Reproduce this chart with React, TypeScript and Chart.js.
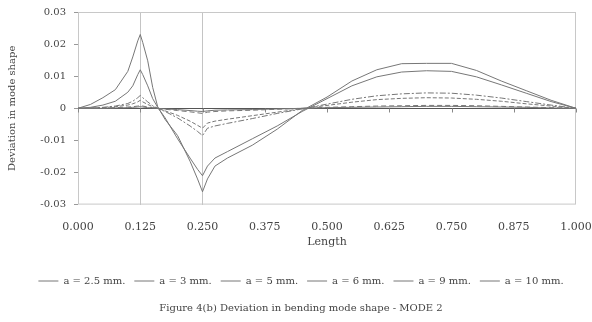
import React, { useEffect, useRef } from "react";
import { Chart, registerables } from "chart.js";

Chart.register(...registerables);

// Position along the beam (normalised length)
const lengths = [0, 0.025, 0.05, 0.075, 0.1, 0.11, 0.12, 0.125, 0.13, 0.14, 0.15, 0.16, 0.175, 0.2, 0.225, 0.24, 0.25, 0.26, 0.275, 0.3, 0.35, 0.4, 0.45, 0.5, 0.55, 0.6, 0.65, 0.7, 0.75, 0.8, 0.85, 0.9, 0.95, 1.0];

const a25 = [0, 0, 0, 0.0001, 0.0002, 0.0003, 0.0004, 0.0005, 0.0004, 0.0002, 0.0001, 0, -0.0002, -0.0004, -0.0007, -0.0009, -0.001, -0.0008, -0.0006, -0.0005, -0.0004, -0.0002, 0, 0.0002, 0.0003, 0.0004, 0.0005, 0.0006, 0.0006, 0.0005, 0.0004, 0.0003, 0.0001, 0];
const a3 = [0, 0, 0.0001, 0.0002, 0.0004, 0.0005, 0.0007, 0.0008, 0.0007, 0.0004, 0.0002, 0, -0.0003, -0.0007, -0.0011, -0.0014, -0.0016, -0.0012, -0.001, -0.0008, -0.0006, -0.0003, 0, 0.0003, 0.0005, 0.0007, 0.0008, 0.0009, 0.0009, 0.0008, 0.0006, 0.0004, 0.0002, 0];
const a5 = [0, 0.0001, 0.0002, 0.0005, 0.001, 0.0014, 0.002, 0.0025, 0.002, 0.0012, 0.0005, 0, -0.0008, -0.0022, -0.004, -0.0053, -0.0062, -0.0046, -0.004, -0.0034, -0.0023, -0.0012, -0.0001, 0.0009, 0.0019, 0.0027, 0.0031, 0.0033, 0.0032, 0.0028, 0.0022, 0.0014, 0.0007, 0];
const a6 = [0, 0.0001, 0.0003, 0.0007, 0.0015, 0.0022, 0.0033, 0.004, 0.0033, 0.002, 0.0008, 0, -0.001, -0.003, -0.0055, -0.0072, -0.0085, -0.0062, -0.0055, -0.0047, -0.0032, -0.0016, -0.0002, 0.0013, 0.0028, 0.0039, 0.0045, 0.0048, 0.0047, 0.0041, 0.0032, 0.0021, 0.001, 0];
const a9 = [0, 0.0003, 0.001, 0.0022, 0.005, 0.007, 0.0105, 0.012, 0.0105, 0.007, 0.003, 0.0003, -0.003, -0.0095, -0.0155, -0.019, -0.021, -0.018, -0.0155, -0.0135, -0.0095, -0.0055, -0.001, 0.003, 0.007, 0.0098, 0.0113, 0.0117, 0.0115, 0.0098, 0.0073, 0.0047, 0.0021, 0];
const a10 = [0, 0.0012, 0.0033, 0.0058, 0.0115, 0.016, 0.021, 0.023, 0.0205, 0.0148, 0.0065, 0.0005, -0.0035, -0.0085, -0.0165, -0.022, -0.026, -0.022, -0.018, -0.0155, -0.0115, -0.0065, -0.0007, 0.0035, 0.0085, 0.012, 0.0139, 0.014, 0.014, 0.0118, 0.0085, 0.0055, 0.0025, 0];

const seriesLabels = ["a = 2.5 mm.", "a = 3 mm.", "a = 5 mm.", "a = 6 mm.", "a = 9 mm.", "a = 10 mm."];
const seriesValues = [a25, a3, a5, a6, a9, a10];
const seriesDashes: number[][] = [[], [5, 3], [4, 2], [6, 2, 2, 2], [], []];

const xTickValues = [0, 0.125, 0.25, 0.375, 0.5, 0.625, 0.75, 0.875, 1.0];
const yTickValues = [-0.03, -0.02, -0.01, 0, 0.01, 0.02, 0.03];
const markerLines = [0.125, 0.25];

const xTitle = "Length";
const yTitle = "Deviation in mode shape";
const caption = "Figure 4(b) Deviation in bending mode shape - MODE 2";

const FAMILY = "'DejaVu Serif', serif";
const TEXT = "#444";

export default function App() {
  const ref = useRef<HTMLCanvasElement>(null);

  useEffect(() => {
    if (!ref.current) return;

    const frame = {
      id: "frame",
      beforeDatasetsDraw(chart: any) {
        const { ctx, chartArea: a, scales } = chart;
        ctx.save();
        ctx.strokeStyle = "#c8c8c8";
        ctx.lineWidth = 1;
        ctx.strokeRect(a.left + 0.5, a.top + 0.5, a.right - a.left - 1, a.bottom - a.top - 1);
        const y0 = Math.round(scales.y.getPixelForValue(0)) + 0.5;
        ctx.strokeStyle = "#888";
        ctx.beginPath();
        for (const t of scales.x.ticks) {
          const px = Math.round(scales.x.getPixelForValue(t.value)) + 0.5;
          ctx.moveTo(px, y0);
          ctx.lineTo(px, y0 + 4);
        }
        ctx.stroke();
        ctx.restore();
      },
    };

    const chart = new Chart(ref.current, {
      type: "line",
      data: {
        datasets: seriesValues.map((vals, i) => ({
          label: seriesLabels[i],
          data: lengths.map((x, j) => ({ x, y: vals[j] })),
          borderColor: "#777",
          backgroundColor: "#777",
          borderWidth: 1,
          borderDash: seriesDashes[i],
          pointRadius: 0,
          fill: false,
          tension: 0,
        })),
      },
      options: {
        responsive: false,
        animation: false,
        layout: { padding: { left: 26, right: 16, top: 12, bottom: 0 } },
        scales: {
          x: {
            type: "linear",
            min: 0,
            max: 1,
            afterBuildTicks: (s: any) => {
              s.ticks = xTickValues.map((v) => ({ value: v }));
            },
            afterFit: (s: any) => {
              s.paddingLeft = 0;
              s.paddingRight = 0;
            },
            ticks: {
              callback: (v: any) => Number(v).toFixed(3),
              font: { family: FAMILY, size: 11 },
              color: TEXT,
              padding: 16,
              maxRotation: 0,
              autoSkip: false,
            },
            grid: {
              drawTicks: false,
              color: (c: any) =>
                c.tick && markerLines.some((m) => Math.abs(m - c.tick.value) < 1e-9) ? "#c4c4c4" : "rgba(0,0,0,0)",
            },
            border: { display: false },
            title: {
              display: true,
              text: xTitle,
              font: { family: FAMILY, size: 11 },
              color: TEXT,
              padding: { top: -14, bottom: 18 },
            },
          },
          y: {
            min: -0.03,
            max: 0.03,
            afterBuildTicks: (s: any) => {
              s.ticks = yTickValues.map((v) => ({ value: v }));
            },
            ticks: {
              callback: (v: any) => (Math.abs(Number(v)) < 1e-9 ? "0" : Number(v).toFixed(2)),
              font: { family: FAMILY, size: 10 },
              color: TEXT,
              padding: 8,
            },
            grid: {
              tickLength: 4,
              tickColor: "#999",
              color: (c: any) => (c.tick && Math.abs(c.tick.value) < 1e-9 ? "#555" : "rgba(0,0,0,0)"),
            },
            border: { display: false },
            title: {
              display: true,
              text: yTitle,
              font: { family: FAMILY, size: 10 },
              color: TEXT,
              padding: { top: -20, bottom: 0 },
            },
            afterFit: (s: any) => {
              s.width = 52;
              s.paddingTop = 0;
              s.paddingBottom = 0;
            },
          },
        },
        plugins: {
          legend: {
            position: "bottom",
            labels: {
              usePointStyle: true,
              pointStyle: "line",
              pointStyleWidth: 20,
              font: { family: FAMILY, size: 10 },
              color: TEXT,
              padding: 9,
            },
          },
          title: {
            display: true,
            position: "bottom",
            text: caption,
            font: { family: FAMILY, size: 10, weight: "normal" },
            color: TEXT,
            padding: { top: 6, bottom: 8 },
          },
          tooltip: { enabled: false },
        },
      },
      plugins: [frame],
    } as any);

    return () => chart.destroy();
  }, []);

  return (
    <div style={{ position: "fixed", left: 0, top: 0, width: 592, height: 322, background: "#fff" }}>
      <canvas ref={ref} width={592} height={322} />
    </div>
  );
}
